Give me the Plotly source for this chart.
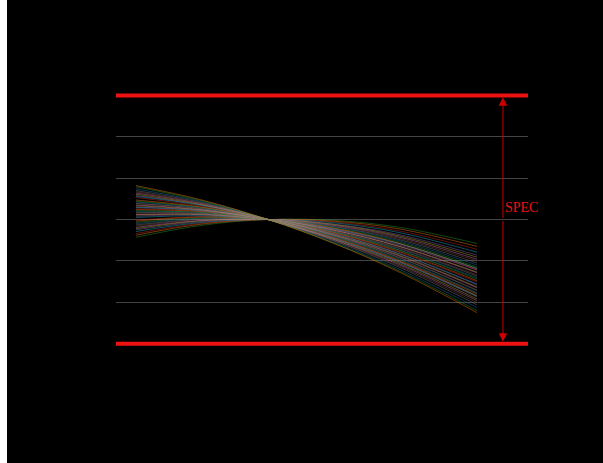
import plotly.graph_objects as go

# x positions (shared) at which each curve is sampled
x_pos = [-3.0, -1.5, 0.0, 1.5, 3.0, 4.75]

# curve values (one list per curve)
c01 = [-0.43, -0.14, 0.0, -0.02, -0.19, -0.58]
c02 = [-0.38, -0.11, 0.0, -0.04, -0.23, -0.65]
c03 = [-0.34, -0.09, 0.0, -0.06, -0.28, -0.72]
c04 = [-0.29, -0.07, 0.0, -0.08, -0.32, -0.79]
c05 = [-0.25, -0.05, 0.0, -0.11, -0.37, -0.86]
c06 = [-0.22, -0.03, 0.0, -0.12, -0.40, -0.91]
c07 = [-0.19, -0.02, 0.0, -0.14, -0.43, -0.96]
c08 = [-0.16, 0.00, 0.0, -0.15, -0.46, -1.00]
c09 = [-0.13, 0.01, 0.0, -0.17, -0.49, -1.05]
c10 = [-0.10, 0.03, 0.0, -0.18, -0.52, -1.10]
c11 = [-0.07, 0.04, 0.0, -0.20, -0.55, -1.15]
c12 = [-0.04, 0.06, 0.0, -0.21, -0.58, -1.19]
c13 = [-0.02, 0.07, 0.0, -0.22, -0.59, -1.22]
c14 = [0.05, 0.09, 0.0, -0.23, -0.59, -1.18]
c15 = [0.08, 0.11, 0.0, -0.24, -0.62, -1.22]
c16 = [0.11, 0.12, 0.0, -0.26, -0.65, -1.27]
c17 = [0.12, 0.13, 0.0, -0.26, -0.66, -1.29]
c18 = [0.15, 0.14, 0.0, -0.28, -0.69, -1.34]
c19 = [0.17, 0.15, 0.0, -0.29, -0.71, -1.37]
c20 = [0.20, 0.17, 0.0, -0.30, -0.74, -1.41]
c21 = [0.21, 0.17, 0.0, -0.31, -0.75, -1.44]
c22 = [0.24, 0.19, 0.0, -0.32, -0.78, -1.48]
c23 = [0.26, 0.20, 0.0, -0.33, -0.80, -1.51]
c24 = [0.29, 0.21, 0.0, -0.35, -0.83, -1.56]
c25 = [0.30, 0.22, 0.0, -0.35, -0.84, -1.58]
c26 = [0.33, 0.23, 0.0, -0.37, -0.87, -1.63]
c27 = [0.35, 0.24, 0.0, -0.38, -0.89, -1.65]
c28 = [0.38, 0.26, 0.0, -0.39, -0.92, -1.70]
c29 = [0.39, 0.26, 0.0, -0.40, -0.93, -1.72]
c30 = [0.42, 0.28, 0.0, -0.41, -0.96, -1.77]
c31 = [0.44, 0.29, 0.0, -0.42, -0.98, -1.79]
c32 = [0.47, 0.30, 0.0, -0.44, -1.01, -1.84]
c33 = [0.53, 0.32, 0.0, -0.44, -1.00, -1.80]
c34 = [0.56, 0.34, 0.0, -0.46, -1.03, -1.85]
c35 = [0.58, 0.35, 0.0, -0.46, -1.04, -1.87]
c36 = [0.61, 0.36, 0.0, -0.48, -1.07, -1.92]
c37 = [0.64, 0.38, 0.0, -0.49, -1.10, -1.96]
c38 = [0.67, 0.39, 0.0, -0.51, -1.13, -2.01]
c39 = [0.70, 0.41, 0.0, -0.52, -1.16, -2.06]
c40 = [0.74, 0.43, 0.0, -0.55, -1.21, -2.13]
c41 = [0.79, 0.45, 0.0, -0.57, -1.25, -2.20]
c42 = [0.82, 0.47, 0.0, -0.58, -1.28, -2.25]

curves = [c01, c02, c03, c04, c05, c06, c07, c08, c09, c10, c11, c12, c13, c14,
          c15, c16, c17, c18, c19, c20, c21, c22, c23, c24, c25, c26, c27, c28,
          c29, c30, c31, c32, c33, c34, c35, c36, c37, c38, c39, c40, c41, c42]

palette = ["#2ca02c", "#ff7f0e", "#d62728", "#17becf", "#9467bd", "#bcbd22",
           "#e377c2", "#8c564b", "#7f7f7f", "#1f77b4"]

spec_limits = [-3, 3]
grid_vals = [-2, -1, 0, 1, 2]
spec_x = 5.34
spec_label = "SPEC"

fig = go.Figure()
for i, ys in enumerate(curves):
    fig.add_trace(go.Scatter(
        x=x_pos, y=ys, mode="lines",
        line=dict(color=palette[i % len(palette)], width=0.6, shape="spline"),
        opacity=0.75, showlegend=False, hoverinfo="skip"))

for lim in spec_limits:
    fig.add_shape(type="line", xref="paper", x0=0, x1=1, yref="y", y0=lim, y1=lim,
                  line=dict(color="#ee1111", width=4), layer="above")

for lim in spec_limits:
    fig.add_annotation(x=spec_x, y=lim * 0.985, ax=spec_x, ay=0,
                       xref="x", yref="y", axref="x", ayref="y",
                       text="", showarrow=True, arrowhead=2, arrowsize=1.7,
                       arrowwidth=1, arrowcolor="#cc0000", standoff=0)

fig.add_annotation(x=spec_x + 0.01, y=0.3, xref="x", yref="y", text=spec_label,
                   showarrow=False, xanchor="left", yanchor="middle",
                   font=dict(family="Liberation Serif", size=14, color="#ee1111"))

# white strip at the left edge
fig.add_shape(type="rect", xref="paper", yref="paper",
              x0=-116 / 412, x1=-109 / 412, y0=-0.5, y1=1.5,
              fillcolor="white", line=dict(width=0), layer="above")

fig.update_layout(
    width=603, height=463,
    margin=dict(l=116, r=75, t=53.5, b=77.5),
    paper_bgcolor="black", plot_bgcolor="black",
    xaxis=dict(range=[-3.4545, 5.909], showgrid=False, zeroline=False,
               showticklabels=False, ticks="", showline=False),
    yaxis=dict(range=[-4, 4], tickvals=grid_vals, showgrid=True,
               gridcolor="#444444", gridwidth=1, zeroline=False,
               showticklabels=False, ticks="", showline=False),
)

fig.write_html("out.html", config={"displayModeBar": False},
               post_script="document.body.style.margin='0';document.body.style.overflow='hidden';")
